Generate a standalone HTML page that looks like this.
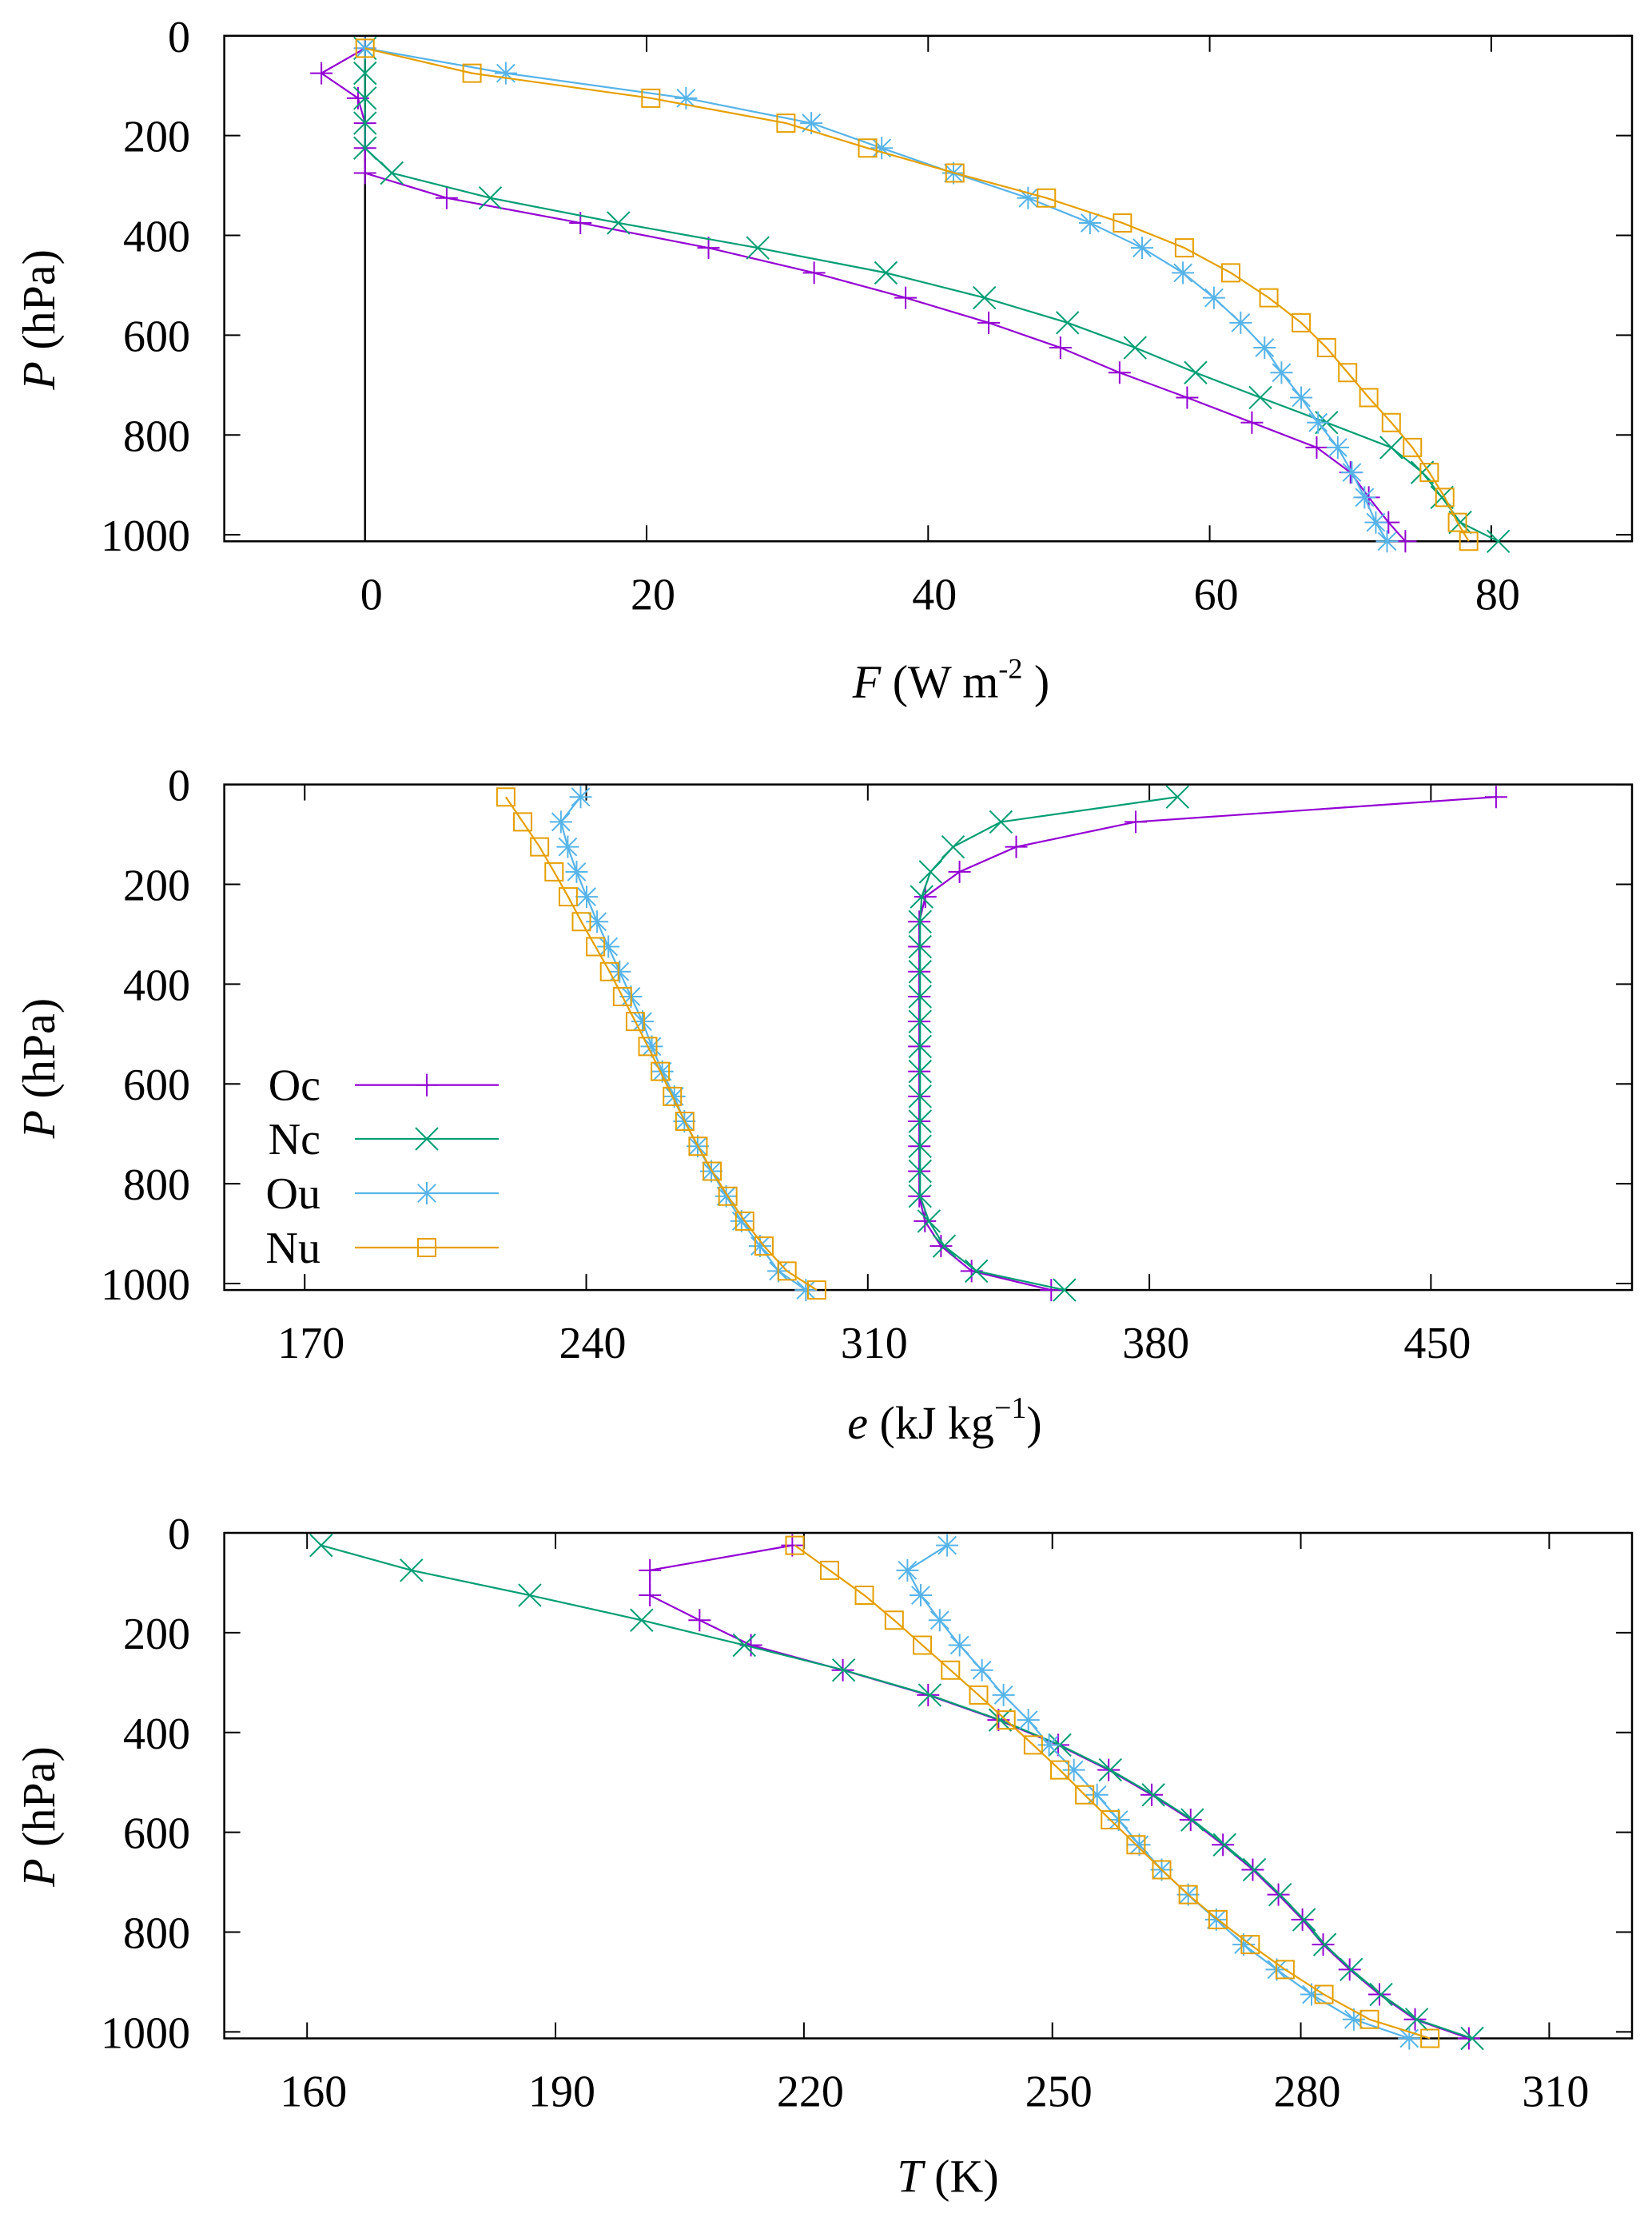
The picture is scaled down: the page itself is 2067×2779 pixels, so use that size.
<!DOCTYPE html>
<html><head><meta charset="utf-8"><style>
html,body{margin:0;padding:0;background:#fff}
svg{display:block}
text{font-family:"Liberation Serif",serif;fill:#000}
</style></head><body>
<svg id="chart" width="2067" height="2779" viewBox="0 0 2067 2779" xmlns="http://www.w3.org/2000/svg"></svg>
<script>
const levels=[25,75,125,175,225,275,325,375,425,475,525,575,625,675,725,775,825,875,925,975,1013];
const seriesNames=["Oc","Nc","Ou","Nu"];
// Panel 1: F (W m-2)
const fOc=[0,-3.1,-0.5,0,0,0,5.8,15.3,24.4,31.9,38.4,44.3,49.4,53.6,58.4,63.0,67.6,70.0,71.3,72.7,73.9];
const fNc=[0,0,0,0,0,1.9,8.9,18.0,27.9,37.0,44.0,49.9,54.7,59.0,63.6,68.3,72.9,75.1,76.5,77.8,80.5];
const fOu=[0,10.0,22.8,31.7,36.7,41.8,47.1,51.5,55.2,58.1,60.3,62.2,63.9,65.1,66.5,67.7,69.1,70.1,71.0,71.8,72.6];
const fNu=[0,7.6,20.3,29.9,35.7,41.9,48.4,53.8,58.2,61.5,64.2,66.5,68.3,69.8,71.3,72.9,74.4,75.6,76.7,77.6,78.4];
// Panel 2: e (kJ kg-1)
const eOc=[466.2,376.6,346.9,332.8,324.3,322.8,322.8,322.8,322.8,322.8,322.8,322.8,322.8,322.8,322.8,322.8,322.8,324.2,328.2,335.8,355.6];
const eNc=[387.0,343.1,331.2,325.6,323.4,323.0,323.0,323.0,323.0,323.0,323.0,323.0,323.0,323.0,323.0,323.0,323.0,325.2,329.0,337.0,358.9];
const eOu=[238.6,233.7,235.4,237.6,240.1,242.7,245.5,248.3,251.1,254.0,256.3,258.9,261.9,264.4,267.7,271.1,274.8,278.6,283.2,287.8,294.6];
const eNu=[220.0,224.2,228.4,232.0,235.5,238.8,242.3,245.8,249.0,252.2,255.3,258.4,261.4,264.5,267.8,271.3,275.2,279.4,284.2,289.9,297.3];
// Panel 3: T (K)
const tOc=[218.6,201.4,201.4,207.4,213.6,224.7,235.0,243.5,250.7,256.8,262.0,266.7,270.6,274.2,277.3,280.2,282.7,285.9,289.5,293.8,300.3];
const tNc=[161.7,172.6,186.9,200.4,212.8,224.8,235.2,243.7,250.9,257.0,262.2,266.9,270.8,274.4,277.5,280.4,282.9,286.1,289.7,294.0,300.7];
const tOu=[237.3,232.5,234.1,236.4,238.8,241.5,244.1,247.1,249.6,252.6,255.4,258.0,260.5,263.2,266.4,269.8,273.1,277.1,281.3,286.4,293.1];
const tNu=[218.9,223.1,227.3,230.9,234.3,237.7,241.1,244.4,247.7,250.9,253.9,257.0,260.1,263.2,266.4,270.0,273.9,278.1,282.8,288.3,295.6];
const fTicks=[0,20,40,60,80];
const eTicks=[170,240,310,380,450];
const tTicks=[160,190,220,250,280,310];
const pTicks=[0,200,400,600,800,1000];

const colors=["#9400d3","#009e73","#56b4e9","#e69f00"];
const markers=["plus","cross","star","square"];
const NS="http://www.w3.org/2000/svg";
const svg=document.getElementById("chart");
function mk(tag,attrs,parent){const e=document.createElementNS(NS,tag);for(const k in attrs)e.setAttribute(k,attrs[k]);(parent||svg).appendChild(e);return e;}

function marker(g,type,x,y,c){
  const s=14;let d="";
  if(type==="plus")d=`M${x-s} ${y}H${x+s}M${x} ${y-s}V${y+s}`;
  else if(type==="cross")d=`M${x-s} ${y-s}L${x+s} ${y+s}M${x-s} ${y+s}L${x+s} ${y-s}`;
  else if(type==="star")d=`M${x-s} ${y}H${x+s}M${x} ${y-s}V${y+s}M${x-s*0.8} ${y-s*0.8}L${x+s*0.8} ${y+s*0.8}M${x-s*0.8} ${y+s*0.8}L${x+s*0.8} ${y-s*0.8}`;
  else d=`M${x-11} ${y-11}h22v22h-22z`;
  const m=mk("path",{d:d,stroke:c,"stroke-width":2,fill:"none"},g);
  
  
}

function panel(cfg){
  const L=280.6,R=2042,T=cfg.top,B=cfg.top+632.5;
  const sx=v=>L+(v-cfg.xmin)/(cfg.xmax-cfg.xmin)*(R-L);
  const sy=p=>T+p/1013*(B-T);
  const g=mk("g",{});
  
  
  if(cfg.zero){const z=mk("line",{x1:sx(0),x2:sx(0),y1:T,y2:B,stroke:"#000","stroke-width":2.5},g);
    }
  // ticks
  cfg.xticks.forEach(v=>{
    const x=sx(v);
    mk("line",{x1:x,x2:x,y1:B,y2:B-20,stroke:"#000","stroke-width":2},g);
    mk("line",{x1:x,x2:x,y1:T,y2:T+20,stroke:"#000","stroke-width":2},g);
    const t=mk("text",{x:x+8,y:B+85,"font-size":56,"text-anchor":"middle"},g);t.textContent=v;
    
  });
  pTicks.forEach(p=>{
    const y=sy(p);
    mk("line",{x1:L,x2:L+20,y1:y,y2:y,stroke:"#000","stroke-width":2},g);
    mk("line",{x1:R,x2:R-20,y1:y,y2:y,stroke:"#000","stroke-width":2},g);
    const t=mk("text",{x:238,y:y+20,"font-size":56,"text-anchor":"end"},g);t.textContent=p;
    
  });
  const fr=mk("rect",{x:L,y:T,width:R-L,height:B-T,fill:"none",stroke:"#000","stroke-width":2.5},g);
  
  // y title
  const yt=mk("text",{x:0,y:0,"font-size":58,"text-anchor":"middle",transform:`translate(68,${T+355}) rotate(-90)`},g);
  yt.innerHTML='<tspan font-style="italic">P</tspan> (hPa)';
  
  const xt=mk("text",{x:cfg.titleX,y:B+cfg.titleDy,"font-size":58,"text-anchor":"middle"},g);
  xt.innerHTML=cfg.title;
  
  // series
  cfg.data.forEach((arr,i)=>{
    const sg=mk("g",{},g);
    
    
    const pts=arr.map((v,j)=>[sx(v),sy(levels[j])]);
    const pl=mk("polyline",{points:pts.map(p=>p.join(",")).join(" "),fill:"none",stroke:colors[i],"stroke-width":2.2},sg);
    
    pts.forEach(p=>marker(sg,markers[i],p[0],p[1],colors[i]));
  });
  return g;
}

panel({name:"flux-panel",top:44.8,xmin:-10,xmax:90,xticks:fTicks,zero:true,data:[fOc,fNc,fOu,fNu],
  title:'<tspan font-style="italic">F</tspan>  (W  m<tspan font-size="36" dy="-24">-2</tspan><tspan dy="24"> )</tspan>',titleX:1190,titleDy:195});
const p2=panel({name:"energy-panel",top:981.6,xmin:150,xmax:500,xticks:eTicks,zero:false,data:[eOc,eNc,eOu,eNu],
  title:'<tspan font-style="italic">e</tspan> (kJ kg<tspan font-size="38" dy="-26">−1</tspan><tspan dy="26">)</tspan>',titleX:1182,titleDy:186});
panel({name:"temperature-panel",top:1918,xmin:150,xmax:320,xticks:tTicks,zero:false,data:[tOc,tNc,tOu,tNu],
  title:'<tspan font-style="italic">T</tspan> (K)',titleX:1186,titleDy:192});

// legend
const lg=mk("g",{},p2);


const legY=[1357.6,1425,1493,1561];
seriesNames.forEach((n,i)=>{
  const eg=mk("g",{},lg);
  
  
  const t=mk("text",{x:401,y:legY[i]+19,"font-size":56,"text-anchor":"end"},eg);t.textContent=n;
  mk("line",{x1:444,x2:624,y1:legY[i],y2:legY[i],stroke:colors[i],"stroke-width":2.2},eg);
  marker(eg,markers[i],534,legY[i],colors[i]);
});
</script>
</body></html>
